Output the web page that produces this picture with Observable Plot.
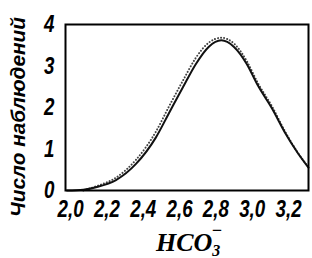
<!DOCTYPE html>
<html>
<head>
<meta charset="utf-8">
<script src="https://cdn.jsdelivr.net/npm/d3@7"></script>
<script src="https://cdn.jsdelivr.net/npm/@observablehq/plot@0.6"></script>
<style>
  html, body { margin: 0; padding: 0; background: #fff; }
  svg { display: block; }
</style>
</head>
<body>
<div id="chart"></div>
<script>
// HCO3- values (x) and number of observations (y)
const xSolid = [1.98, 2.07, 2.14, 2.25, 2.36, 2.47, 2.54, 2.62, 2.69, 2.76, 2.83, 2.90, 2.97, 3.03, 3.11, 3.18, 3.25, 3.31];
const ySolid = [0.00, 0.02, 0.08, 0.25, 0.64, 1.28, 1.85, 2.50, 3.05, 3.46, 3.62, 3.46, 3.05, 2.54, 1.97, 1.40, 0.91, 0.55];
const xDotted = [2.07, 2.14, 2.25, 2.36, 2.47, 2.54, 2.62, 2.69, 2.76, 2.83, 2.90, 2.97, 3.03, 3.11, 3.18, 3.25, 3.31];
const yDotted = [0.00, 0.10, 0.31, 0.74, 1.42, 2.01, 2.66, 3.20, 3.56, 3.68, 3.54, 3.12, 2.60, 2.02, 1.43, 0.92, 0.56];
const xTicks = [2.0, 2.2, 2.4, 2.6, 2.8, 3.0, 3.2];
const yTicks = [0, 1, 2, 3, 4];
const yTitle = "Число наблюдений";

const solid = xSolid.map((x, i) => ({x, y: ySolid[i]}));
const dotted = xDotted.map((x, i) => ({x, y: yDotted[i]}));

const tickFont = {
  fontSize: 24,
  fontWeight: "bold",
  fontStyle: "italic",
  fontFamily: "'Liberation Sans', Arial, sans-serif"
};

const plot = Plot.plot({
  width: 312,
  height: 258,
  marginLeft: 65,
  marginRight: 4,
  marginTop: 24,
  marginBottom: 68,
  x: {domain: [1.972, 3.31]},
  y: {domain: [0, 4]},
  marks: [
    Plot.line(dotted, {x: "x", y: "y", curve: "monotone-x", stroke: "#444", strokeWidth: 2, strokeDasharray: "0.1,3", strokeLinecap: "round"}),
    Plot.line(solid, {x: "x", y: "y", curve: "monotone-x", stroke: "#111", strokeWidth: 2}),
    Plot.frame({stroke: "#000", strokeWidth: 2}),
    Plot.axisX(xTicks, {tickSize: 0, tickPadding: 9, label: null, tickFormat: d => d.toFixed(1).replace(".", ","), ...tickFont}),
    Plot.axisY(yTicks, {tickSize: 0, tickPadding: 11, label: null, ...tickFont})
  ]
});

document.getElementById("chart").appendChild(plot);

const svg = d3.select(plot);
// condense tick labels horizontally (the original uses a narrow bold italic face)
svg.selectAll('g[aria-label$="tick label"] text').each(function () {
  const w = this.getComputedTextLength();
  if (w > 0) {
    this.setAttribute("textLength", (w * 0.78).toFixed(2));
    this.setAttribute("lengthAdjust", "spacingAndGlyphs");
  }
});

svg.append("text")
  .attr("transform", "translate(25,117) rotate(-90)")
  .attr("text-anchor", "middle")
  .attr("font-family", "'Liberation Sans', Arial, sans-serif")
  .attr("font-weight", "bold")
  .attr("font-style", "italic")
  .attr("font-size", 21)
  .attr("fill", "#000")
  .text(yTitle)
  .each(function () {
    const w = this.getComputedTextLength();
    if (w > 0) {
      this.setAttribute("textLength", Math.min(w, 200).toFixed(2));
      this.setAttribute("lengthAdjust", "spacingAndGlyphs");
    }
  });

const xt = svg.append("text")
  .attr("x", 156)
  .attr("y", 251)
  .attr("text-anchor", "start")
  .attr("font-family", "'Liberation Serif', 'DejaVu Serif', serif")
  .attr("font-weight", "bold")
  .attr("font-style", "italic")
  .attr("font-size", 26)
  .attr("fill", "#000");
xt.append("tspan").text("HCO");
xt.append("tspan").attr("font-size", 16).attr("dy", 5).text("3");
xt.append("tspan").attr("font-size", 18).attr("dx", -9).attr("dy", -20).text("−");
</script>
</body>
</html>
